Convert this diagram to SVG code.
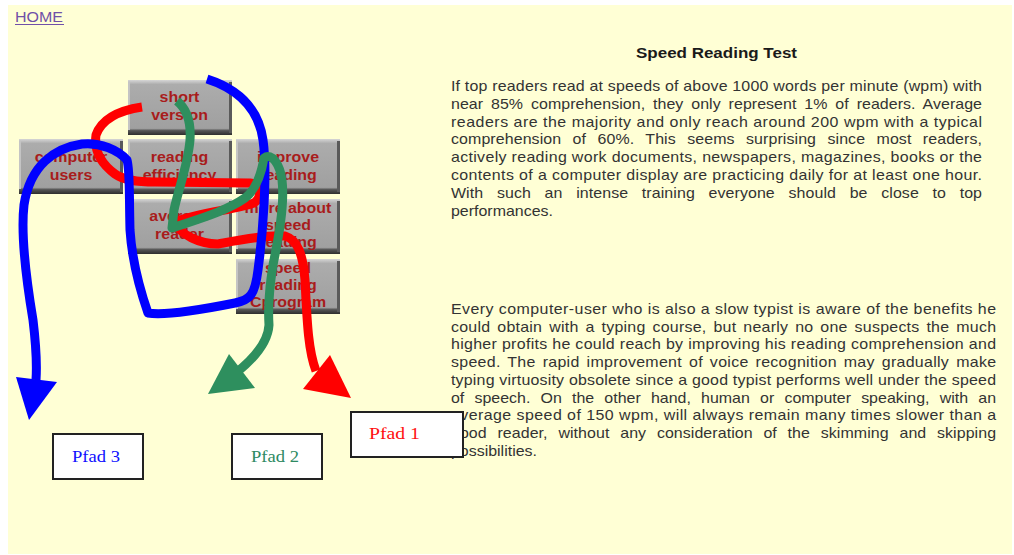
<svg xmlns="http://www.w3.org/2000/svg" width="1014" height="555" viewBox="0 0 1014 555">
<style>
.p{font-family:"Liberation Sans",Arial,sans-serif;font-size:14px;fill:#333}
.bt{font-family:"Liberation Sans",Arial,sans-serif;font-size:14px;font-weight:bold;fill:#a81c1c;text-anchor:middle}
.pf{font-family:"Liberation Serif","Times New Roman",serif;font-size:17px}
.box{fill:#fff;stroke:#222;stroke-width:2}
.s{fill:none;stroke-width:9;stroke-linejoin:round;stroke-linecap:butt}
</style>
<defs>
<linearGradient id="g" x1="0" y1="0" x2="0" y2="1">
<stop offset="0" stop-color="#d6d6d6"/>
<stop offset="0.08" stop-color="#acacac"/>
<stop offset="0.88" stop-color="#a0a0a0"/>
<stop offset="0.92" stop-color="#555"/>
<stop offset="1" stop-color="#2e2e2e"/>
</linearGradient>
<symbol id="btn" overflow="visible">
<rect x="0" y="0" width="104" height="55" fill="url(#g)"/>
<rect x="0" y="2" width="2" height="48" fill="#c4c4c4"/>
<rect x="101" y="2" width="3" height="51" fill="#5a5a5a"/>
</symbol>
</defs>
<rect width="1014" height="555" fill="#fff"/>
<rect x="8" y="5" width="1004" height="549" fill="#ffffd5"/>
<g id="home">
<text x="15" y="22" textLength="48" lengthAdjust="spacingAndGlyphs" style="font-family:'Liberation Sans',Arial,sans-serif;font-size:14px;fill:#7050a8">HOME</text>
<line x1="15" y1="24.5" x2="64" y2="24.5" stroke="#7050a8" stroke-width="1"/>
</g>
<g id="short-version"><use href="#btn" x="128" y="80"/><g transform="translate(179.5,0) scale(1.14,1)"><text class="bt" x="0" y="102">short</text><text class="bt" x="0" y="120">version</text></g></g>
<g id="computer-users"><use href="#btn" x="19" y="139"/><g transform="translate(71,0) scale(1.14,1)"><text class="bt" x="0" y="162">computer</text><text class="bt" x="0" y="180">users</text></g></g>
<g id="reading-efficiency"><use href="#btn" x="128" y="139"/><g transform="translate(179.5,0) scale(1.14,1)"><text class="bt" x="0" y="162">reading</text><text class="bt" x="0" y="180">efficiency</text></g></g>
<g id="improve-reading"><use href="#btn" x="236" y="139"/><g transform="translate(288,0) scale(1.14,1)"><text class="bt" x="0" y="162">improve</text><text class="bt" x="0" y="180">reading</text></g></g>
<g id="average-reader"><use href="#btn" x="128" y="199"/><g transform="translate(179.5,0) scale(1.14,1)"><text class="bt" x="0" y="221">average</text><text class="bt" x="0" y="239">reader</text></g></g>
<g id="more-about"><use href="#btn" x="236" y="199"/><g transform="translate(288,0) scale(1.14,1)"><text class="bt" x="0" y="213">more about</text><text class="bt" x="0" y="230">speed</text><text class="bt" x="0" y="247">reading</text></g></g>
<g id="speed-program"><use href="#btn" x="236" y="259"/><g transform="translate(288,0) scale(1.14,1)"><text class="bt" x="0" y="273">speed</text><text class="bt" x="0" y="290">reading</text><text class="bt" x="0" y="307">Cprogram</text></g></g>
<g id="text">
<text x="636" y="58" textLength="161" lengthAdjust="spacingAndGlyphs" style="font-family:'Liberation Sans',Arial,sans-serif;font-size:14px;font-weight:bold;fill:#1a1a1a">Speed Reading Test</text>
<g transform="scale(1.14,1)">
<text class="p" x="395.6" y="91" textLength="465.8" lengthAdjust="spacing">If top readers read at speeds of above 1000 words per minute (wpm) with</text>
<text class="p" x="395.6" y="108.8" textLength="465.8" lengthAdjust="spacing" word-spacing="3">near 85% comprehension, they only represent 1% of readers. Average</text>
<text class="p" x="395.6" y="126.6" textLength="465.8" lengthAdjust="spacing">readers are the majority and only reach around 200 wpm with a typical</text>
<text class="p" x="395.6" y="144.4" textLength="465.8" lengthAdjust="spacing" word-spacing="6">comprehension of 60%. This seems surprising since most readers,</text>
<text class="p" x="395.6" y="162.2" textLength="465.8" lengthAdjust="spacing">actively reading work documents, newspapers, magazines, books or the</text>
<text class="p" x="395.6" y="180" textLength="465.8" lengthAdjust="spacing">contents of a computer display are practicing daily for at least one hour.</text>
<text class="p" x="395.6" y="197.8" textLength="465.8" lengthAdjust="spacing" word-spacing="8">With such an intense training everyone should be close to top</text>
<text class="p" x="395.6" y="215.6">performances.</text>
<text class="p" x="395.6" y="314" textLength="478.1" lengthAdjust="spacing">Every computer-user who is also a slow typist is aware of the benefits he</text>
<text class="p" x="395.6" y="331.8" textLength="478.1" lengthAdjust="spacing" word-spacing="2">could obtain with a typing course, but nearly no one suspects the much</text>
<text class="p" x="395.6" y="349.5" textLength="478.1" lengthAdjust="spacing">higher profits he could reach by improving his reading comprehension and</text>
<text class="p" x="395.6" y="367.3" textLength="478.1" lengthAdjust="spacing" word-spacing="2">speed. The rapid improvement of voice recognition may gradually make</text>
<text class="p" x="395.6" y="385" textLength="478.1" lengthAdjust="spacing">typing virtuosity obsolete since a good typist performs well under the speed</text>
<text class="p" x="395.6" y="402.8" textLength="478.1" lengthAdjust="spacing" word-spacing="5">of speech. On the other hand, human or computer speaking, with an</text>
<text class="p" x="395.6" y="420.5" textLength="478.1" lengthAdjust="spacing">average speed of 150 wpm, will always remain many times slower than a</text>
<text class="p" x="395.6" y="438.3" textLength="478.1" lengthAdjust="spacing" word-spacing="5.5">good reader, without any consideration of the skimming and skipping</text>
<text class="p" x="395.6" y="456">possibilities.</text>
</g>
</g>
<g id="connectors">
<path class="s" stroke="#ff0000" d="M142,107 C122,110 102,118 96,135 C94,150 100,163 115,174 C125,181 140,182 155,182 L250,183 C262,185 262,197 254,203 C235,210 200,212 175,222 C180,235 200,244 218,244 C240,240 265,235 285,236 C298,240 303,255 305,280 C307,320 308,350 316,371"/>
<polygon fill="#ff0000" points="303,389 330,355 351,398"/>
<path class="s" stroke="#0000ff" d="M207,79 C235,88 258,105 263,140 C268,175 262,240 258,270 C255,295 250,300 235,303 C200,310 165,316 148,313 C140,290 132,260 130,230 C129,190 130,170 127,160 C118,150 100,142 82,144 C55,148 30,165 24,205 C20,240 28,290 33,320 C36,345 37,365 36,380"/>
<polygon fill="#0000ff" points="16,377 57,382 29,420"/>
<path class="s" stroke="#2e8f5e" d="M177,101 C188,110 191,125 190,140 C188,165 178,190 174,210 L172,228 C195,220 225,212 245,198 C258,188 262,170 264,158 C272,152 280,165 282,180 C285,205 278,240 273,265 C269,290 268,310 269,325 C268,342 256,357 236,373"/>
<polygon fill="#2e8f5e" points="208,394 229,354 255,388"/>
</g>
<g id="pfad3"><rect class="box" x="53" y="434" width="90" height="45"/><text class="pf" x="72" y="462" textLength="48" lengthAdjust="spacingAndGlyphs" fill="#1010ff">Pfad 3</text></g>
<g id="pfad2"><rect class="box" x="232" y="434" width="90" height="45"/><text class="pf" x="251" y="462" textLength="48" lengthAdjust="spacingAndGlyphs" fill="#2e8a62">Pfad 2</text></g>
<g id="pfad1"><rect class="box" x="351" y="412" width="112" height="45"/><text class="pf" x="369" y="439" textLength="51" lengthAdjust="spacingAndGlyphs" fill="#ff1010">Pfad 1</text></g>
</svg>
